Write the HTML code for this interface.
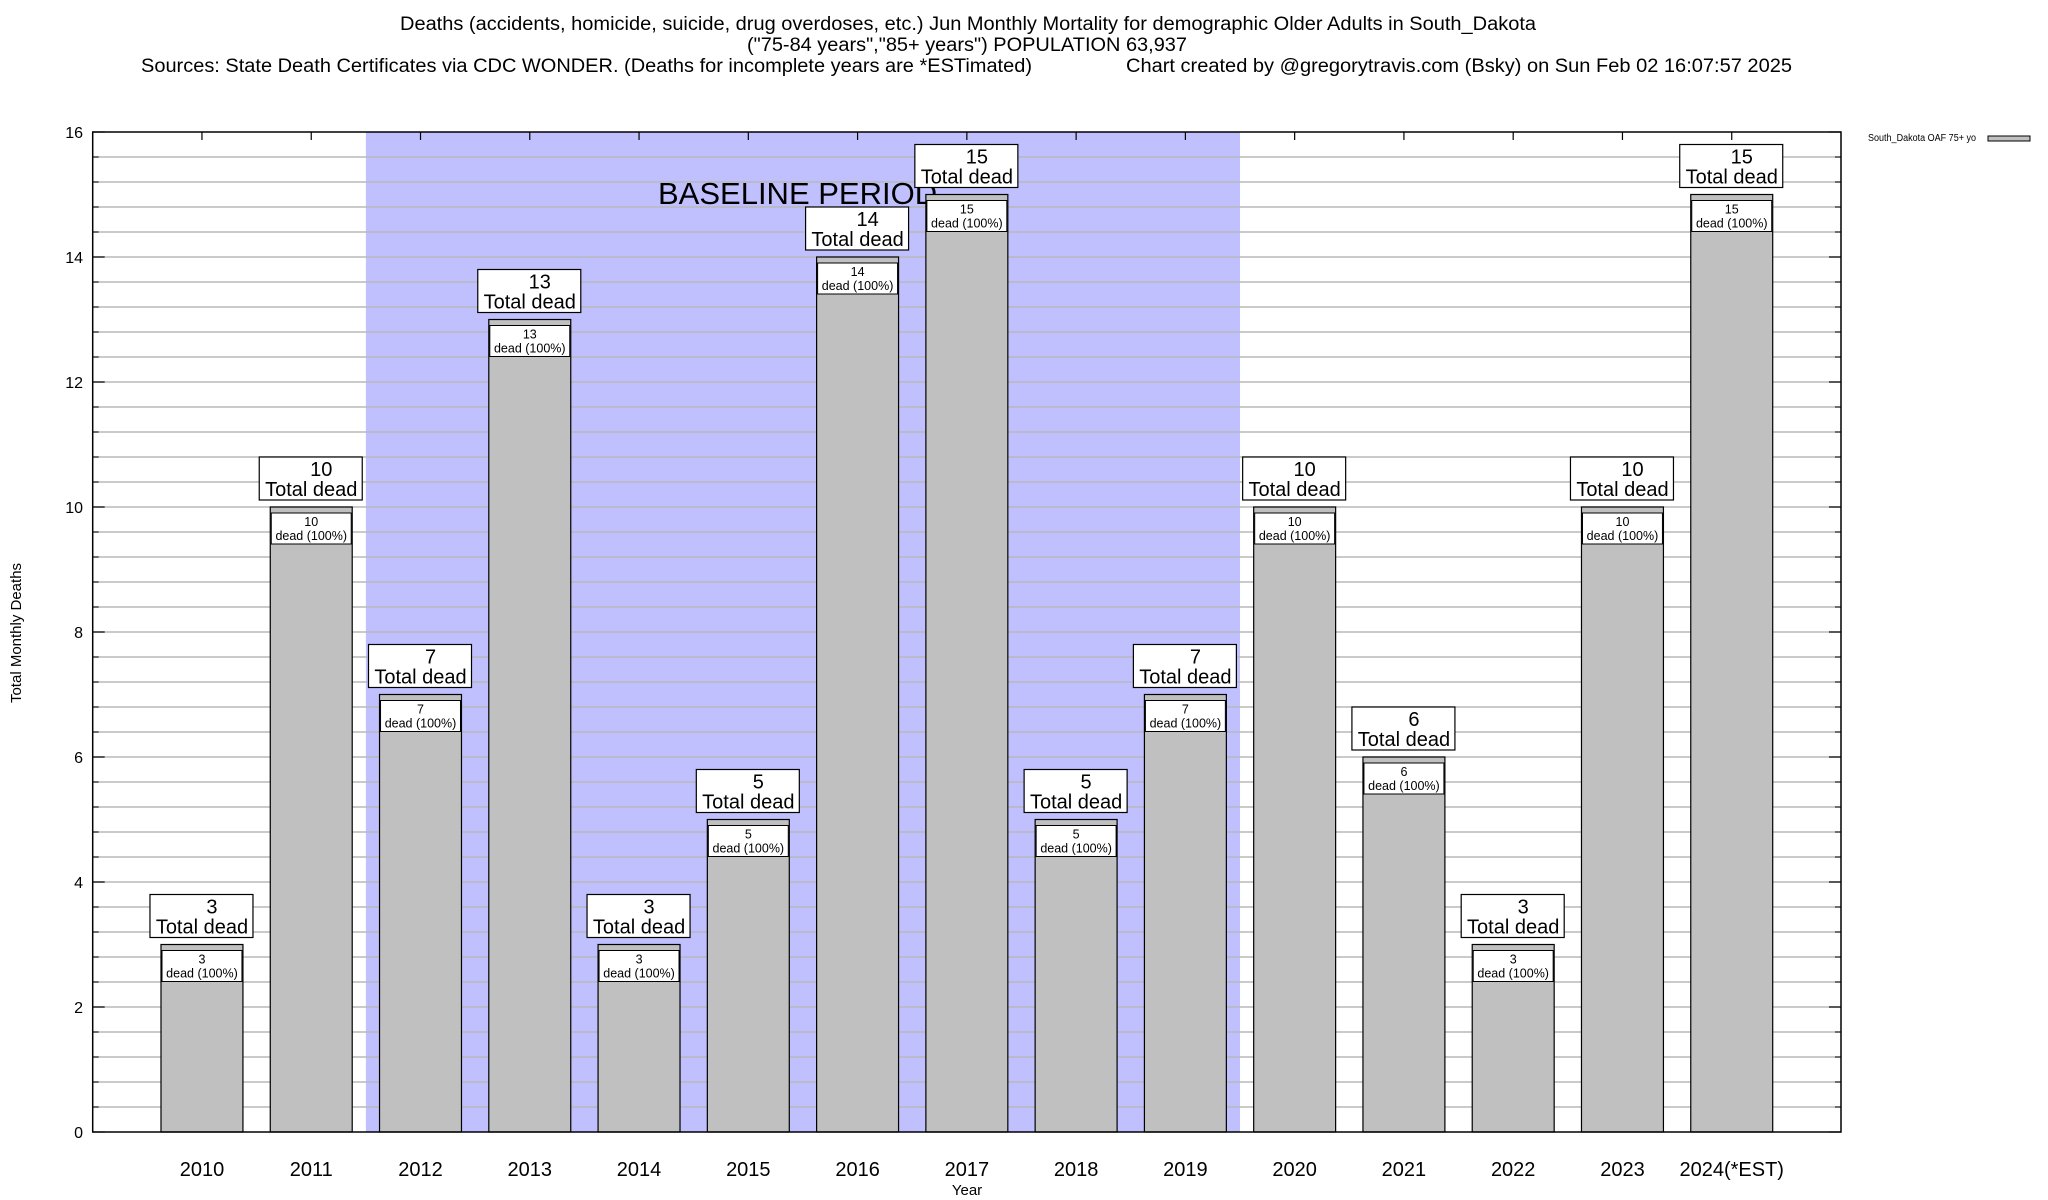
<!DOCTYPE html>
<html><head><meta charset="utf-8">
<style>
html,body{margin:0;padding:0;background:#fff;}
svg{display:block;font-family:"Liberation Sans",sans-serif;}
</style></head>
<body>
<svg id="chart" width="2048" height="1200" viewBox="0 0 2048 1200" xmlns="http://www.w3.org/2000/svg">
<g>
<text x="968" y="30" font-size="19" text-anchor="middle" textLength="1136" lengthAdjust="spacingAndGlyphs">Deaths (accidents, homicide, suicide, drug overdoses, etc.) Jun Monthly Mortality for demographic Older Adults in South_Dakota</text>
<text x="967" y="51" font-size="19" text-anchor="middle" textLength="440" lengthAdjust="spacingAndGlyphs">("75-84 years","85+ years") POPULATION 63,937</text>
<text x="141" y="72" font-size="19" textLength="891" lengthAdjust="spacingAndGlyphs">Sources: State Death Certificates via CDC WONDER. (Deaths for incomplete years are *ESTimated)</text>
<text x="1126" y="72" font-size="19" textLength="666" lengthAdjust="spacingAndGlyphs">Chart created by @gregorytravis.com (Bsky) on Sun Feb 02 16:07:57 2025</text>
</g>
<g id="plot"></g>
</svg>
<script>
const categories = ["2010","2011","2012","2013","2014","2015","2016","2017","2018","2019","2020","2021","2022","2023","2024(*EST)"];
const deaths = [3,10,7,13,3,5,14,15,5,7,10,6,3,10,15];
const yTicks = [0,2,4,6,8,10,12,14,16];
const baselineRange = [2012, 2019];

const NS = "http://www.w3.org/2000/svg";
const L = 92.7, R = 1841, T = 132, B = 1132;
const yMax = 16;
const slot = (R - L) / (categories.length + 1);
function xScale(i){ return L + slot * (i + 1); }
function yScale(v){ return B - (B - T) * v / yMax; }
const g = document.getElementById("plot");
function mk(tag, attrs, parent){
  const e = document.createElementNS(NS, tag);
  for (const k in attrs) e.setAttribute(k, attrs[k]);
  (parent || g).appendChild(e);
  return e;
}

const bi0 = categories.findIndex(c => c.startsWith(String(baselineRange[0])));
const bi1 = categories.findIndex(c => c.startsWith(String(baselineRange[1])));
const shade = mk("rect", {x: xScale(bi0) - slot/2, y: T, width: (bi1 - bi0 + 1) * slot, height: B - T, fill: "#c0c0ff"});



for (let k = 1; k < 40; k++) {
  const v = k * 0.4;
  const y = yScale(v);
  const gl = mk("line", {x1: L, x2: R, y1: y, y2: y, stroke: "#b8b8b8", "stroke-width": 1.5});
  
  
  mk("line", {x1: L, x2: L + 6, y1: y, y2: y, stroke: "#000", "stroke-width": 1});
  mk("line", {x1: R - 6, x2: R, y1: y, y2: y, stroke: "#000", "stroke-width": 1});
}

const bl = mk("text", {x: 658, y: 204, "font-size": 31, "text-anchor": "start"});
bl.textContent = "BASELINE PERIOD";



yTicks.forEach(v => {
  const y = yScale(v);
  const t = mk("text", {x: 83, y: y + 6, "font-size": 16, "text-anchor": "end"});
  t.textContent = v;
  
  
  mk("line", {x1: L, x2: L + 12, y1: y, y2: y, stroke: "#000", "stroke-width": 1.2});
  mk("line", {x1: R - 12, x2: R, y1: y, y2: y, stroke: "#000", "stroke-width": 1.2});
});

const bw = slot * 0.75;
categories.forEach((c, i) => {
  const cx = xScale(i), v = deaths[i], yt = yScale(v);
  mk("line", {x1: cx, x2: cx, y1: T, y2: T + 8, stroke: "#000", "stroke-width": 1.2});
  mk("line", {x1: cx, x2: cx, y1: B - 8, y2: B, stroke: "#000", "stroke-width": 1.2});
  const bar = mk("rect", {x: cx - bw/2, y: yt, width: bw, height: B - yt, fill: "#c0c0c0", stroke: "#000", "stroke-width": 1.2});
  
  
  const ib = mk("rect", {x: cx - bw/2 + 1, y: yt + 6, width: bw - 2, height: 31, fill: "#fff", stroke: "#000", "stroke-width": 1});
  
  
  const it1 = mk("text", {x: cx, y: yt + 19, "font-size": 12.5, "text-anchor": "middle"});
  it1.textContent = v;
  
  
  const it2 = mk("text", {x: cx, y: yt + 33, "font-size": 12.5, "text-anchor": "middle"});
  it2.textContent = "dead (100%)";
  
  
  const ob = mk("rect", {x: cx - 52, y: yt - 50, width: 103, height: 43, fill: "#fff", stroke: "#000", "stroke-width": 1.2});
  
  
  const t1 = mk("text", {x: cx + 10, y: yt - 31, "font-size": 20, "text-anchor": "middle"});
  t1.textContent = v;
  
  
  const t2 = mk("text", {x: cx, y: yt - 11, "font-size": 20, "text-anchor": "middle"});
  t2.textContent = "Total dead";
  
  
  const xl = mk("text", {x: cx, y: 1176, "font-size": 20, "text-anchor": "middle"});
  xl.textContent = c;
  
  
});

const fr = mk("rect", {x: L, y: T, width: R - L, height: B - T, fill: "none", stroke: "#000", "stroke-width": 1.5});



const xt = mk("text", {x: 967, y: 1195, "font-size": 15, "text-anchor": "middle"});
xt.textContent = "Year";


const yt = mk("text", {x: 0, y: 0, "font-size": 15, "text-anchor": "middle", transform: "translate(21,633) rotate(-90)"});
yt.textContent = "Total Monthly Deaths";



const lt = mk("text", {x: 1868, y: 141, "font-size": 10, textLength: 108, lengthAdjust: "spacingAndGlyphs"});
lt.textContent = "South_Dakota OAF 75+ yo";


const ls = mk("rect", {x: 1988, y: 136, width: 42, height: 5, fill: "#c0c0c0", stroke: "#000", "stroke-width": 1});


</script>
</body></html>
